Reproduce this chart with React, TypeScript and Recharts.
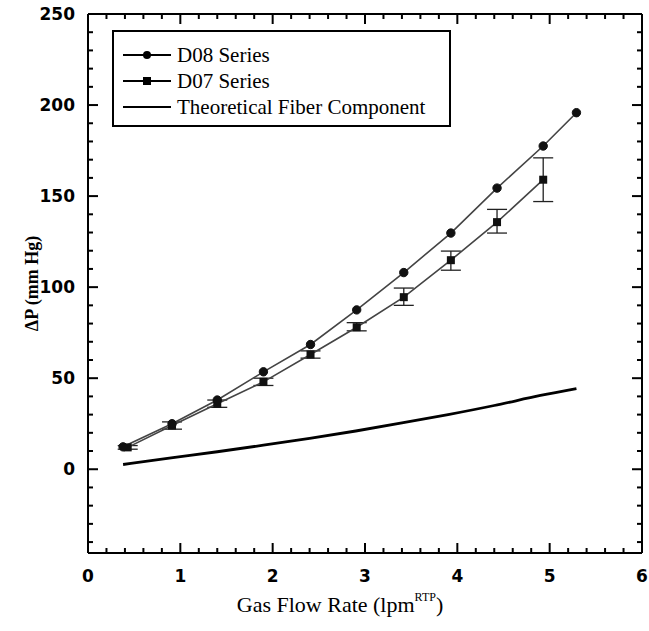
import { LineChart, Line, XAxis, YAxis, ErrorBar, Label, ReferenceLine } from "recharts";

// D08 series (circles)
const d08X = [0.38, 0.91, 1.4, 1.9, 2.41, 2.91, 3.42, 3.93, 4.43, 4.93, 5.29];
const d08Y = [12.3, 25, 38, 53.5, 68.5, 87.5, 108, 129.7, 154.4, 177.5, 195.8];

// D07 series (squares) with asymmetric error bars
const d07X = [0.43, 0.91, 1.4, 1.9, 2.41, 2.91, 3.42, 3.93, 4.43, 4.93];
const d07Y = [12, 24, 36, 48, 63, 78, 94.5, 114.8, 135.7, 159];
const d07ErrLow = [1, 2, 2, 2, 2, 2, 4.5, 5.5, 6, 12];
const d07ErrHigh = [1, 2, 2, 2, 2, 2.5, 5, 5, 7, 12];

// theoretical fiber component curve
const theoX = [0.38, 0.9, 1.4, 1.9, 2.4, 2.9, 3.4, 3.9, 4.4, 4.9, 5.29];
const theoY = [2.6, 6.2, 9.6, 13.2, 17, 21, 25.4, 30, 35, 40.5, 44.3];

const xMajor = [0, 1, 2, 3, 4, 5, 6];
const xMinor = [0.2, 0.4, 0.6, 0.8, 1.2, 1.4, 1.6, 1.8, 2.2, 2.4, 2.6, 2.8, 3.2, 3.4, 3.6, 3.8, 4.2, 4.4, 4.6, 4.8, 5.2, 5.4, 5.6, 5.8];
const yMajor = [0, 50, 100, 150, 200, 250];
const yMinor = [-40, -30, -20, -10, 10, 20, 30, 40, 60, 70, 80, 90, 110, 120, 130, 140, 160, 170, 180, 190, 210, 220, 230, 240];

const d08 = d08X.map((x, i) => ({ x, y: d08Y[i] }));
const d07 = d07X.map((x, i) => ({ x, y: d07Y[i], err: [d07ErrLow[i], d07ErrHigh[i]] }));
const theo = theoX.map((x, i) => ({ x, y: theoY[i] }));

const X_MIN = 0;
const X_MAX = 6;
const Y_MIN = -46;
const Y_MAX = 250;

// plot box in px, used to turn tick lengths (px) into data units
const PLOT_W = 554;
const PLOT_H = 539;
const xPerPx = (X_MAX - X_MIN) / PLOT_W;
const yPerPx = (Y_MAX - Y_MIN) / PLOT_H;
const MAJOR_LEN = 10;
const MINOR_LEN = 5;

const serif = "'Liberation Serif', 'Times New Roman', serif";
const sans = "'DejaVu Sans', Arial, sans-serif";
const tickFont = { fontFamily: sans, fontWeight: "bold", fontSize: 17, fill: "#000" };
const frame = { stroke: "#000", strokeWidth: 2 };

// inward ticks on all four sides
const xTickSegs = [
  ...xMajor.map((v) => ({ v, len: MAJOR_LEN })),
  ...xMinor.map((v) => ({ v, len: MINOR_LEN })),
];
const yTickSegs = [
  ...yMajor.map((v) => ({ v, len: MAJOR_LEN })),
  ...yMinor.map((v) => ({ v, len: MINOR_LEN })),
];

const SquareDot = (props: any) => {
  const { cx, cy, index } = props;
  if (cx == null || cy == null) return <g key={index} />;
  return <rect key={index} x={cx - 4} y={cy - 4} width={8} height={8} fill="#111" />;
};

const XTitle = (props: any) => {
  const { viewBox } = props;
  const cx = viewBox.x + viewBox.width / 2 - 25;
  return (
    <text x={cx} y={viewBox.y + 59} textAnchor="middle" fontFamily={serif} fontSize={22} fill="#000">
      Gas Flow Rate (lpm
      <tspan fontSize={12} dy={-11}>RTP</tspan>
      <tspan dy={11}>)</tspan>
    </text>
  );
};

const YTitle = (props: any) => {
  const { viewBox } = props;
  const cy = viewBox.y + viewBox.height / 2;
  const cx = 38;
  return (
    <text
      x={cx}
      y={cy}
      transform={`rotate(-90, ${cx}, ${cy})`}
      textAnchor="middle"
      fontFamily={serif}
      fontWeight="bold"
      fontSize={18}
      fill="#000"
    >
      ΔP (mm Hg)
    </text>
  );
};

const legendItems = [
  { name: "D08 Series", marker: "circle" },
  { name: "D07 Series", marker: "square" },
  { name: "Theoretical Fiber Component", marker: "none" },
];

const LegendBox = () => (
  <div
    style={{
      position: "absolute",
      left: 112,
      top: 30,
      width: 335,
      height: 93,
      border: "2px solid #000",
      background: "#fff",
    }}
  >
    <svg width={335} height={93} style={{ display: "block" }}>
      {legendItems.map((item, i) => {
        const y = 23 + i * 26;
        return (
          <g key={item.name}>
            <line x1={9} x2={57} y1={y} y2={y} stroke="#000" strokeWidth={2} />
            {item.marker === "circle" && <circle cx={33} cy={y} r={4} fill="#000" />}
            {item.marker === "square" && <rect x={29} y={y - 4} width={8} height={8} fill="#000" />}
            <text x={63} y={y + 7} fontFamily={serif} fontSize={21} fill="#000">
              {item.name}
            </text>
          </g>
        );
      })}
    </svg>
  </div>
);

export default function App() {
  return (
    <div style={{ position: "absolute", left: 0, top: 0, width: 649, height: 631, background: "#fff" }}>
      <LineChart width={649} height={631} margin={{ top: 14, right: 7, left: 8, bottom: 3 }}>
        <XAxis
          type="number"
          dataKey="x"
          domain={[X_MIN, X_MAX]}
          ticks={xMajor}
          interval={0}
          allowDataOverflow
          height={75}
          tickSize={0}
          tickMargin={17}
          tick={tickFont}
          axisLine={frame}
          tickLine={false}
        >
          <Label content={XTitle} />
        </XAxis>
        <YAxis
          type="number"
          domain={[Y_MIN, Y_MAX]}
          ticks={yMajor}
          interval={0}
          allowDataOverflow
          width={80}
          tickSize={0}
          tickMargin={13}
          tick={tickFont}
          axisLine={frame}
          tickLine={false}
        >
          <Label content={YTitle} />
        </YAxis>

        {/* top and right frame */}
        <ReferenceLine y={Y_MAX} stroke="#000" strokeWidth={2} />
        <ReferenceLine x={X_MAX} stroke="#000" strokeWidth={2} />

        {xTickSegs.map((t) => (
          <ReferenceLine
            key={`xb${t.v}`}
            segment={[{ x: t.v, y: Y_MIN }, { x: t.v, y: Y_MIN + t.len * yPerPx }]}
            stroke="#000"
            strokeWidth={2}
            ifOverflow="visible"
          />
        ))}
        {xTickSegs.map((t) => (
          <ReferenceLine
            key={`xt${t.v}`}
            segment={[{ x: t.v, y: Y_MAX }, { x: t.v, y: Y_MAX - t.len * yPerPx }]}
            stroke="#000"
            strokeWidth={2}
            ifOverflow="visible"
          />
        ))}
        {yTickSegs.map((t) => (
          <ReferenceLine
            key={`yl${t.v}`}
            segment={[{ x: X_MIN, y: t.v }, { x: X_MIN + t.len * xPerPx, y: t.v }]}
            stroke="#000"
            strokeWidth={2}
            ifOverflow="visible"
          />
        ))}
        {yTickSegs.map((t) => (
          <ReferenceLine
            key={`yr${t.v}`}
            segment={[{ x: X_MAX, y: t.v }, { x: X_MAX - t.len * xPerPx, y: t.v }]}
            stroke="#000"
            strokeWidth={2}
            ifOverflow="visible"
          />
        ))}

        <Line
          data={theo}
          dataKey="y"
          type="monotone"
          stroke="#000"
          strokeWidth={2.8}
          dot={false}
          isAnimationActive={false}
        />
        <Line
          data={d07}
          dataKey="y"
          type="linear"
          stroke="#444"
          strokeWidth={1.6}
          dot={SquareDot}
          isAnimationActive={false}
        >
          <ErrorBar dataKey="err" width={10} stroke="#222" strokeWidth={1.3} direction="y" />
        </Line>
        <Line
          data={d08}
          dataKey="y"
          type="linear"
          stroke="#444"
          strokeWidth={1.6}
          dot={{ r: 4.2, fill: "#111", stroke: "#111", strokeWidth: 1 }}
          isAnimationActive={false}
        />
      </LineChart>
      <LegendBox />
    </div>
  );
}
